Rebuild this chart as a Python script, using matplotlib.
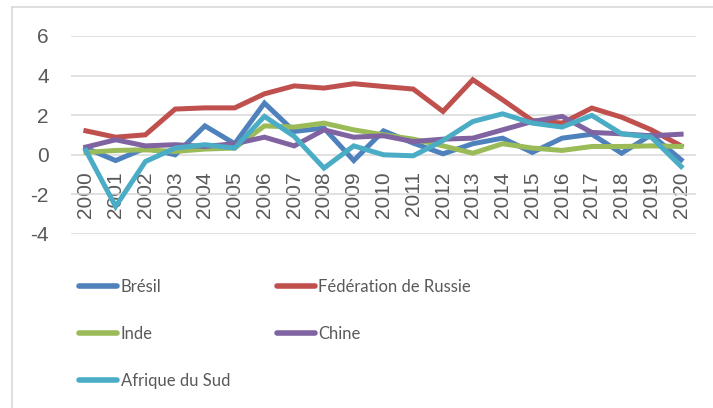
import matplotlib
matplotlib.use("Agg")
import matplotlib.pyplot as plt
from matplotlib.lines import Line2D

# data
annees = [str(a) for a in range(2000, 2021)]
bresil = [0.34, -0.29, 0.34, 0.0, 1.46, 0.56, 2.61, 1.18, 1.35, -0.29, 1.21,
          0.59, 0.05, 0.56, 0.84, 0.12, 0.84, 1.04, 0.08, 1.01, -0.25]
russie = [1.21, 0.89, 1.01, 2.31, 2.37, 2.37, 3.08, 3.48, 3.37, 3.59, 3.45,
          3.32, 2.19, 3.79, 2.78, 1.73, 1.60, 2.36, 1.90, 1.26, 0.45]
inde = [0.12, 0.22, 0.25, 0.17, 0.29, 0.34, 1.46, 1.40, 1.60, 1.26, 1.01,
        0.79, 0.45, 0.08, 0.56, 0.34, 0.22, 0.42, 0.42, 0.45, 0.42]
chine = [0.39, 0.76, 0.45, 0.51, 0.42, 0.56, 0.89, 0.45, 1.26, 0.89, 0.96,
         0.67, 0.79, 0.84, 1.26, 1.68, 1.94, 1.13, 1.06, 0.96, 1.04]
afrique_sud = [0.22, -2.61, -0.34, 0.34, 0.51, 0.34, 1.94, 0.93, -0.67, 0.45, 0.0,
               -0.05, 0.72, 1.68, 2.07, 1.60, 1.40, 1.99, 1.06, 0.89, -0.59]

series = [
    ("Brésil", bresil, "#4F81BD"),
    ("Fédération de Russie", russie, "#C0504D"),
    ("Inde", inde, "#9BBB59"),
    ("Chine", chine, "#8064A2"),
    ("Afrique du Sud", afrique_sud, "#4BACC6"),
]

gris = "#595959"
plt.rcParams['font.family'] = ['Liberation Sans', 'DejaVu Sans']
plt.rcParams['axes.unicode_minus'] = False

fig = plt.figure(figsize=(7.13, 4.08), dpi=100)
ax = fig.add_axes([71 / 713, 1 - 234 / 408, 625 / 713, 198 / 408])

x = list(range(len(annees)))
handles = {}
for nom, vals, couleur in series:
    ln, = ax.plot(x, vals, color=couleur, lw=3.6, solid_joinstyle='miter', label=nom)
    handles[nom] = ln

ax.set_xlim(-0.5, len(annees) - 0.5)
ax.set_ylim(-4, 6)
ax.set_yticks(range(-4, 7, 2))
ax.yaxis.grid(True, color="#d9d9d9", lw=1.1)
ax.set_axisbelow(True)

for s in ['top', 'right', 'left']:
    ax.spines[s].set_visible(False)
ax.spines['bottom'].set_position(('data', 0))
ax.spines['bottom'].set_visible(False)

ax.set_xticks(x)
ax.set_xticklabels(annees, rotation=90)
ax.tick_params(axis='x', length=0, pad=12, labelsize=15, labelcolor=gris)
ax.tick_params(axis='y', length=0, pad=16, labelsize=15, labelcolor=gris)

# legend, row by row like Excel
ordre = ["Brésil", "Inde", "Afrique du Sud", "Fédération de Russie", "Chine"]
leg_handles = [Line2D([], [], color=handles[n].get_color(), lw=4, solid_capstyle='round') for n in ordre]
leg = fig.legend(leg_handles, ordre, loc='upper left', bbox_to_anchor=(79 / 713, 1 - 279 / 408),
                 ncol=2, frameon=False, borderpad=0, borderaxespad=0,
                 handlelength=2.3, handletextpad=0.2, columnspacing=2.8, labelspacing=1.85,
                 prop={'family': ['Lato', 'Liberation Sans', 'DejaVu Sans'], 'size': 12})
for t in leg.get_texts():
    t.set_color(gris)

# chart area border (top and left visible)
fig.add_artist(Line2D([12 / 713, 1], [1 - 7 / 408, 1 - 7 / 408], color="#d9d9d9", lw=1.2))
fig.add_artist(Line2D([12 / 713, 12 / 713], [0, 1 - 7 / 408], color="#d9d9d9", lw=1.2))

fig.savefig("out.png", dpi=100)
